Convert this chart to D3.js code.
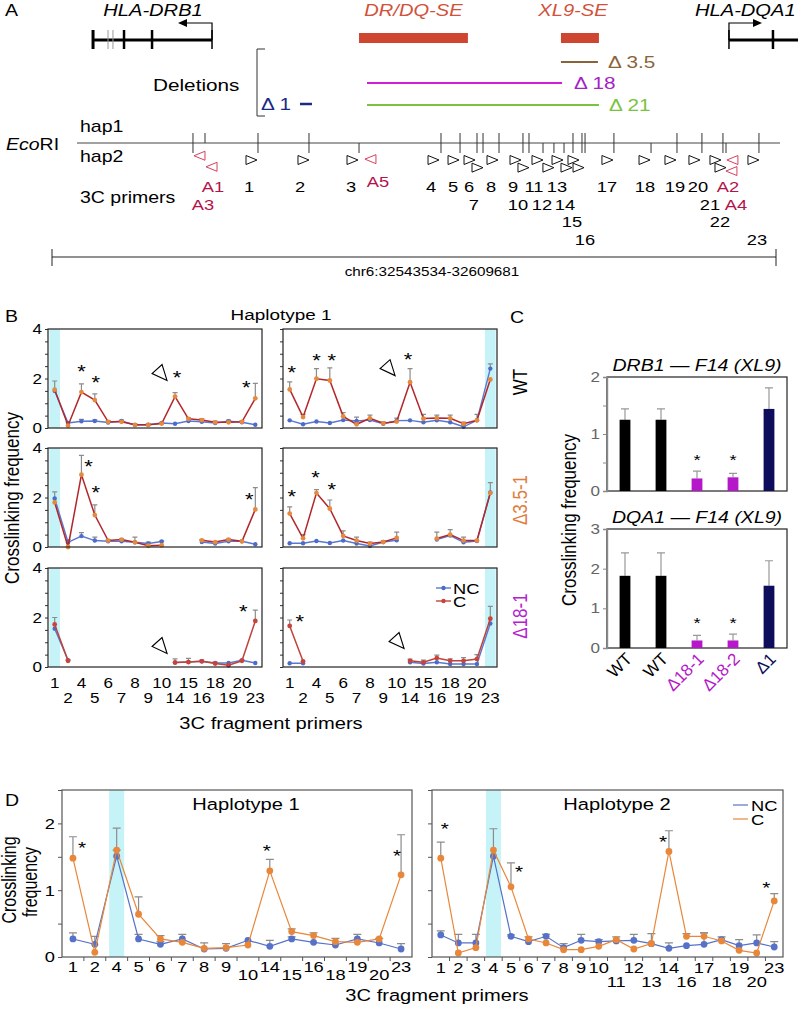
<!DOCTYPE html>
<html>
<head>
<meta charset="utf-8">
<script src="https://cdn.jsdelivr.net/npm/d3@7"></script>
<style>
  body { margin: 0; background: #fff; }
</style>
</head>
<body>
<svg id="fig" width="798" height="1010"></svg>
<script>
(function() {
  'use strict';

  // ---------- panel A : locus map (positions in kb from chr6:32543534) ----------
  const regionKb = [0, 66.147];
  const drb1Exons = [3.75, 5.12, 5.57, 6.58, 9.14, 14.62];
  const drb1Tss = 14.62, drb1ArrowTip = 11.51;
  const dqa1Exons = [61.85, 65.87];
  const dqa1End = 68.2, dqa1ArrowTip = 64.87;
  const seNames = ['DR/DQ-SE', 'XL9-SE'];
  const seStart = [28.05, 46.5];
  const seEnd = [38.0, 49.97];
  const delNames = ['Δ 3.5', 'Δ 18', 'Δ 21', 'Δ 1'];
  const delStart = [46.5, 28.78, 28.78, 22.66];
  const delEnd = [49.88, 46.6, 49.97, 23.75];
  const ecoSites = [12.88, 13.98, 18.82, 23.48, 28.05, 35.54, 37.28, 38.83, 39.38, 40.84,
    43.03, 43.58, 44.86, 45.86, 46.78, 47.6, 48.42, 48.7, 51.34, 54.73, 57.1, 59.38, 61.3, 61.58, 64.59];
  const ecoHap = ['both', 'hap1', 'both', 'both', 'hap2', 'both', 'both', 'both', 'both', 'both',
    'both', 'both', 'hap2', 'hap2', 'hap2', 'both', 'both', 'both', 'both', 'hap2', 'both', 'both', 'both', 'hap2', 'both'];
  const primerNames = ['A1', 'A3', '1', '2', '3', 'A5', '4', '5', '6', '7', '8', '9', '10', '11', '12', '13',
    '14', '15', '16', '17', '18', '19', '20', '21', '22', 'A2', 'A4', '23'];
  const primerKb = [13.52, 14.62, 18.18, 22.93, 27.41, 29.14, 34.81, 36.64, 38.1, 38.83, 40.2, 42.3, 43.03,
    44.31, 45.31, 46.14, 46.96, 47.6, 48.06, 50.7, 54.09, 56.46, 58.65, 60.57, 61.03, 62.21, 62.12, 64.04];
  const primerRow = [-0.5, 0.8, 0, 0, 0, -0.1, 0, 0, 0, 0.9, 0, 0, 0.9, 0, 0.9, 0, 0.9, 0, 0.9, 0, 0, 0, 0, 0, 0.9, 0, 1.3, 0];
  const primerLabelKb = [14.71, 13.8, 18.0, 22.66, 27.32, 29.78, 34.63, 36.64, 38.1, 38.55, 40.11, 42.12, 42.57,
    44.04, 44.77, 46.14, 46.87, 47.51, 48.7, 50.71, 54.18, 56.92, 59.02, 60.11, 61.03, 61.76, 62.49, 64.41];
  const primerLabelRow = [0, 1, 0, 0, 0, -0.3, 0, 0, 0, 1, 0, 0, 1, 0, 1, 0, 1, 2, 3, 0, 0, 0, 0, 1, 2, 0, 1, 3];
  const regionLabel = 'chr6:32543534-32609681';

  // ---------- panel B : 3C profiles, haplotype 1 ----------
  const bCats = ['1', '2', '4', '5', '6', '7', '8', '9', '10', '14', '15', '16', '18', '19', '20', '23'];
  const _ = null;
  const bWtL_C = [1.55, 0.1, 1.45, 1.13, 0.25, 0.25, 0.13, 0.13, 0.18, 1.27, 0.37, 0.32, 0.23, 0.23, 0.25, 1.2];
  const bWtL_CErr = [1.9, _, 1.78, 1.38, 0.3, 0.3, 0.18, 0.18, 0.23, 1.43, 0.42, 0.38, 0.28, 0.3, 0.3, 1.8];
  const bWtL_NC = [1.5, 0.2, 0.27, 0.28, 0.22, 0.28, 0.12, 0.13, 0.2, 0.17, 0.28, 0.25, 0.2, 0.27, 0.23, 0.13];
  const bWtL_NCErr = [_, 0.25, 0.35, 0.33, _, 0.32, _, _, _, _, _, _, _, 0.32, _, _];
  const bWtR_C = [1.56, 0.44, 1.99, 1.92, 0.47, 0.15, 0.39, 0.19, 0.26, 1.85, 0.38, 0.4, 0.39, 0.17, 0.31, 1.96];
  const bWtR_CErr = [1.86, 0.55, 2.4, 2.43, 0.62, 0.3, 0.52, 0.25, 0.4, 2.4, 0.55, 0.52, 0.52, 0.24, 0.55, _];
  const bWtR_NC = [0.31, 0.15, 0.26, 0.2, 0.32, 0.28, 0.32, 0.17, 0.3, 0.31, 0.23, 0.31, 0.23, 0.05, 0.31, 2.4];
  const bWtR_NCErr = [_, _, _, _, _, 0.44, _, _, _, _, _, _, _, 0.15, _, 2.59];
  const bD35L_C = [1.8, 0.0, 2.92, 1.29, 0.26, 0.3, 0.19, 0.05, 0.07, _, _, 0.27, 0.2, 0.3, 0.23, 1.52];
  const bD35L_CErr = [_, _, 3.7, 1.7, 0.3, 0.33, 0.4, _, _, _, _, 0.3, _, 0.33, _, 2.4];
  const bD35L_NC = [1.96, 0.19, 0.44, 0.26, 0.23, 0.23, 0.19, 0.14, 0.22, _, _, 0.2, 0.14, 0.23, 0.23, 0.11];
  const bD35L_NCErr = [2.23, 0.3, 0.58, 0.4, _, _, _, 0.2, 0.25, _, _, _, _, _, _, _];
  const bD35R_C = [1.35, 0.35, 2.18, 1.55, 0.45, 0.26, 0.14, 0.2, 0.37, _, _, 0.34, 0.5, 0.26, 0.26, 2.18];
  const bD35R_CErr = [1.62, 0.5, 2.32, 1.9, 0.65, 0.4, 0.2, 0.25, 0.6, _, _, 0.6, 0.7, 0.4, _, 2.6];
  const bD35R_NC = [0.15, 0.15, 0.24, 0.16, 0.26, 0.14, 0.04, 0.2, 0.27, _, _, 0.3, 0.46, 0.19, 0.24, 2.2];
  const bD18L_C = [1.72, 0.25, _, _, _, _, _, _, _, 0.18, 0.2, 0.23, 0.14, 0.07, 0.25, 1.86];
  const bD18L_CErr = [2.0, 0.3, _, _, _, _, _, _, _, 0.33, 0.35, 0.28, 0.2, _, 0.3, 2.3];
  const bD18L_NC = [1.55, 0.27, _, _, _, _, _, _, _, 0.18, 0.2, 0.23, 0.16, 0.16, 0.27, 0.16];
  const bD18R_C = [1.66, 0.23, _, _, _, _, _, _, _, 0.25, 0.19, 0.36, 0.25, 0.25, 0.32, 1.95];
  const bD18R_CErr = [1.9, _, _, _, _, _, _, _, _, 0.32, 0.28, 0.48, 0.33, 0.38, 0.5, 2.45];
  const bD18R_NC = [0.15, 0.15, _, _, _, _, _, _, _, 0.19, 0.14, 0.19, 0.12, 0.12, 0.12, 1.76];
  const bRowNames = ['WT', 'Δ3.5-1', 'Δ18-1'];

  // ---------- panel C : bar charts ----------
  const cLabels = ['WT', 'WT', 'Δ18-1', 'Δ18-2', 'Δ1'];
  const cDrb1 = [1.25, 1.25, 0.22, 0.24, 1.44];
  const cDrb1Err = [1.44, 1.44, 0.35, 0.31, 1.81];
  const cDqa1 = [1.82, 1.82, 0.19, 0.19, 1.57];
  const cDqa1Err = [2.4, 2.4, 0.32, 0.35, 2.2];
  const cStars = [2, 3];

  // ---------- panel D : haplotype 1 and 2 ----------
  const dCats1 = ['1', '2', '4', '5', '6', '7', '8', '9', '10', '14', '15', '16', '18', '19', '20', '23'];
  const d1C = [1.48, 0.07, 1.6, 0.64, 0.27, 0.22, 0.13, 0.14, 0.18, 1.29, 0.38, 0.32, 0.23, 0.22, 0.27, 1.23];
  const d1CErr = [1.8, _, 1.93, 0.9, 0.32, _, 0.21, 0.2, _, 1.46, 0.42, 0.36, 0.28, _, 0.28, 1.83];
  const d1NC = [0.27, 0.19, 1.51, 0.27, 0.19, 0.27, 0.12, 0.13, 0.25, 0.16, 0.27, 0.22, 0.18, 0.27, 0.21, 0.12];
  const d1NCErr = [0.36, 0.31, 1.6, 0.34, 0.23, 0.34, _, _, _, 0.25, 0.3, _, _, 0.34, _, 0.2];
  const dCats2 = ['1', '2', '3', '4', '5', '6', '7', '8', '9', '10', '11', '12', '13', '14', '16', '17', '18', '19', '20', '23'];
  const d2C = [1.48, 0.06, 0.14, 1.6, 1.05, 0.27, 0.21, 0.11, 0.11, 0.16, 0.26, 0.12, 0.2, 1.58, 0.31, 0.31, 0.24, 0.1, 0.06, 0.84];
  const d2CErr = [1.72, _, _, 1.92, 1.41, 0.3, _, _, _, _, 0.3, _, _, 1.89, 0.35, 0.36, _, _, _, 0.95];
  const d2NC = [0.33, 0.21, 0.21, 1.51, 0.31, 0.23, 0.31, 0.14, 0.25, 0.23, 0.24, 0.25, 0.2, 0.13, 0.17, 0.19, 0.26, 0.17, 0.21, 0.15];
  const d2NCErr = [0.39, 0.34, 0.34, _, 0.33, _, 0.34, 0.2, 0.34, 0.26, _, 0.34, 0.35, 0.21, _, 0.36, 0.3, 0.26, 0.33, 0.23];
  const d1LabelRow = [0, 0, 0, 0, 0, 0, 0, 0, 1, 0, 1, 0, 1, 0, 1, 0];
  const d2LabelRow = [0, 0, 0, 0, 0, 0, 0, 0, 0, 0, 1, 0, 1, 0, 1, 0, 1, 0, 1, 0];

  // ---------- drawing ----------
  const FONT = '"Liberation Sans", Arial, Helvetica, sans-serif';
  const SX = 1.22; // the original figure is stretched sideways
  const svg = d3.select('#fig');
  svg.append('rect').attr('width', 798).attr('height', 1010).attr('fill', '#fff');

  function label(x, y, s, o) {
    o = o || {};
    const rot = o.rotate || 0;
    const sc = rot === -90 ? `scale(1,${SX})` : (rot ? '' : `scale(${SX},1)`);
    return svg.append('text')
      .attr('transform', `translate(${x},${y}) rotate(${rot}) ${sc}`)
      .attr('text-anchor', o.anchor || 'start')
      .attr('fill', o.fill || '#000')
      .style('font-family', FONT)
      .style('font-size', (o.size || 15) + 'px')
      .style('font-style', o.italic ? 'italic' : 'normal')
      .text(s);
  }

  // ----- A -----
  const xA = d3.scaleLinear().domain(regionKb).range([52, 776]);
  const gA = svg.append('g');
  label(5, 16, 'A', {size: 16});
  label(153, 16, 'HLA-DRB1', {size: 16.5, italic: true, anchor: 'middle'});
  label(695, 16, 'HLA-DQA1', {size: 16.5, italic: true});

  gA.append('line').attr('x1', xA(drb1Exons[0])).attr('x2', xA(drb1Tss))
    .attr('y1', 40).attr('y2', 40).attr('stroke', '#000').attr('stroke-width', 3);
  drb1Exons.forEach((e, i) => {
    const thin = i === 1 || i === 2;
    gA.append('line').attr('x1', xA(e)).attr('x2', xA(e)).attr('y1', 30).attr('y2', 49)
      .attr('stroke', thin ? '#9a9a9a' : '#000')
      .attr('stroke-width', thin ? 1 : (i === 5 ? 1.5 : (i === 0 ? 3 : 2.5)));
  });
  gA.append('path').attr('d', `M${xA(drb1Tss)},40V23H${xA(drb1ArrowTip) + 8}`)
    .attr('fill', 'none').attr('stroke', '#000').attr('stroke-width', 1.2);
  gA.append('path').attr('d', `M${xA(drb1ArrowTip)},23l9,-4v8z`).attr('fill', '#000');

  gA.append('line').attr('x1', xA(dqa1Exons[0])).attr('x2', xA(dqa1End))
    .attr('y1', 40).attr('y2', 40).attr('stroke', '#000').attr('stroke-width', 3);
  dqa1Exons.forEach((e, i) => {
    gA.append('line').attr('x1', xA(e)).attr('x2', xA(e)).attr('y1', 30).attr('y2', 49)
      .attr('stroke', '#000').attr('stroke-width', i === 0 ? 1.5 : 2.5);
  });
  gA.append('path').attr('d', `M${xA(dqa1Exons[0])},40V23H${xA(dqa1ArrowTip) - 8}`)
    .attr('fill', 'none').attr('stroke', '#000').attr('stroke-width', 1.2);
  gA.append('path').attr('d', `M${xA(dqa1ArrowTip)},23l-9,-4v8z`).attr('fill', '#000');

  const seColor = '#cf4630';
  seNames.forEach((n, i) => {
    gA.append('rect').attr('x', xA(seStart[i])).attr('y', 33)
      .attr('width', xA(seEnd[i]) - xA(seStart[i])).attr('height', 10).attr('fill', seColor);
    label((xA(seStart[i]) + xA(seEnd[i])) / 2 - (i ? 7 : 0), 16, n,
      {size: 16.5, italic: true, fill: '#d2513a', anchor: 'middle'});
  });

  const delColors = ['#8b6338', '#d21fd6', '#7cc242', '#1b2a85'];
  const delTextColors = ['#8b6338', '#a323c4', '#7cc242', '#1b2a85'];
  const delY = [62, 83, 105, 104];
  delNames.forEach((n, i) => {
    gA.append('line').attr('x1', xA(delStart[i])).attr('x2', xA(delEnd[i]))
      .attr('y1', delY[i]).attr('y2', delY[i])
      .attr('stroke', delColors[i]).attr('stroke-width', i === 3 ? 2.5 : 2);
    if (i < 3) {
      label(xA(delEnd[i]) + (i === 1 ? 12 : 10), delY[i] + 6, n, {size: 17, fill: delTextColors[i]});
    } else {
      label(xA(delStart[i]) - 9, delY[i] + 6, n, {size: 17, fill: delTextColors[i], anchor: 'end'});
    }
  });
  gA.append('path').attr('d', 'M265,49H257V116H265').attr('fill', 'none')
    .attr('stroke', '#333').attr('stroke-width', 1);
  label(153, 91, 'Deletions', {size: 17});

  // EcoRI map
  const eco = label(6, 150, '', {size: 16});
  eco.append('tspan').style('font-style', 'italic').text('Eco');
  eco.append('tspan').text('RI');
  label(80, 132, 'hap1', {size: 16});
  label(80, 162, 'hap2', {size: 16});
  label(80, 203, '3C primers', {size: 16});
  gA.append('line').attr('x1', 77).attr('x2', 780).attr('y1', 143).attr('y2', 143)
    .attr('stroke', '#444').attr('stroke-width', 1);
  ecoSites.forEach((s, i) => {
    const h = ecoHap[i];
    gA.append('line').attr('x1', xA(s)).attr('x2', xA(s))
      .attr('y1', h === 'hap2' ? 143 : 133).attr('y2', h === 'hap1' ? 143 : 153)
      .attr('stroke', '#333').attr('stroke-width', 1);
  });
  primerNames.forEach((n, i) => {
    const cx = xA(primerKb[i]);
    const cy = 160 + primerRow[i] * 8.5;
    const rev = n[0] === 'A';
    const d = rev
      ? `M${cx + 5},${cy - 4.5}L${cx - 6},${cy}L${cx + 5},${cy + 4.5}Z`
      : `M${cx - 5},${cy - 4.5}L${cx + 6},${cy}L${cx - 5},${cy + 4.5}Z`;
    gA.append('path').attr('d', d).attr('fill', '#fff')
      .attr('stroke', rev ? '#d6405e' : '#111').attr('stroke-width', 1);
    label(xA(primerLabelKb[i]), 192 + primerLabelRow[i] * 17.7, n,
      {size: 15, anchor: 'middle', fill: rev ? '#b3124a' : '#000'});
  });

  // scale bar
  gA.append('path').attr('d', `M${xA(regionKb[0])},249V266M${xA(regionKb[0])},257H${xA(regionKb[1])}M${xA(regionKb[1])},249V266`)
    .attr('fill', 'none').attr('stroke', '#222').attr('stroke-width', 1);
  label(432, 276, regionLabel, {size: 12.5, anchor: 'middle'});

  // ----- generic line chart -----
  function linePanel(o) {
    const g = svg.append('g');
    const n = o.cats.length;
    const x = d3.scalePoint().domain(d3.range(n)).range([o.x, o.x + o.w]).padding(0.5);
    const y = d3.scaleLinear().domain([0, o.yMax]).range([o.y + o.h, o.y]);
    if (o.band != null) {
      const x0 = Math.max(o.x, x(o.band) - o.bandHalf);
      const x1 = Math.min(o.x + o.w, x(o.band) + o.bandHalf);
      g.append('rect').attr('x', x0).attr('y', o.y).attr('width', x1 - x0).attr('height', o.h)
        .attr('fill', '#c6f3f8');
    }
    const ya = d3.axisLeft(y).tickValues(d3.range(0, o.yMax + 0.001, 0.5)).tickSize(o.tickLen).tickFormat('');
    const ag = g.append('g').attr('transform', `translate(${o.x},0)`).call(ya);
    ag.select('.domain').remove();
    ag.selectAll('line').attr('stroke', o.axisColor);
    if (o.yLabels) {
      o.yLabels.forEach(v => label(o.x - o.tickLen - 3, y(v) + o.fontSize * 0.36, String(v),
        {size: o.fontSize, anchor: 'end'}));
    }
    if (o.xTicks) {
      d3.range(1, n).forEach(i => {
        g.append('line').attr('x1', x(i) - x.step() / 2).attr('x2', x(i) - x.step() / 2)
          .attr('y1', o.y + o.h).attr('y2', o.y + o.h + 4).attr('stroke', o.axisColor);
      });
    }
    if (o.xLabels) {
      o.cats.forEach((c, i) => label(x(i), o.xLabelY[o.xLabelRow[i]], c, {size: o.fontSize, anchor: 'middle'}));
    }
    // error bars
    o.series.forEach(s => {
      if (!s.err) return;
      s.err.forEach((e, i) => {
        if (e == null || s.vals[i] == null) return;
        g.append('path')
          .attr('d', `M${x(i)},${y(s.vals[i])}V${y(e)}M${x(i) - o.cap},${y(e)}H${x(i) + o.cap}`)
          .attr('fill', 'none').attr('stroke', '#8c8c8c').attr('stroke-width', 1.2);
      });
    });
    o.series.forEach(s => {
      const line = d3.line().defined(d => d != null).x((d, i) => x(i)).y(d => y(d));
      g.append('path').datum(s.vals).attr('d', line).attr('fill', 'none')
        .attr('stroke', s.line).attr('stroke-width', s.lw);
      g.selectAll(null)
        .data(s.vals.map((v, i) => ({v: v, i: i})).filter(d => d.v != null))
        .enter().append('circle')
        .attr('cx', d => x(d.i)).attr('cy', d => y(d.v)).attr('r', s.r)
        .attr('fill', s.marker);
    });
    g.append('rect').attr('x', o.x).attr('y', o.y).attr('width', o.w).attr('height', o.h)
      .attr('fill', 'none').attr('stroke', o.frame).attr('stroke-width', 1.2);
    (o.stars || []).forEach(st => {
      label(x(st[0]) + st[2], y(st[1]) + o.starSize * 0.6, '*', {size: o.starSize, anchor: 'middle'});
    });
    (o.arrows || []).forEach(a => {
      const cx = x(a[0]) + a[2], cy = y(a[1]);
      g.append('path').attr('d', `M${cx + 7},${cy + 8}L${cx + 2},${cy - 8}L${cx - 8},${cy + 1}Z`)
        .attr('fill', '#fff').attr('stroke', '#000').attr('stroke-width', 1.1);
    });
    return {x: x, y: y, g: g};
  }

  // ----- B -----
  label(5, 322, 'B', {size: 16});
  label(281, 320, 'Haplotype 1', {size: 15.5, anchor: 'middle'});
  label(19, 498, 'Crosslinking frequency', {size: 17, anchor: 'middle', rotate: -90});
  label(271, 729, '3C fragment primers', {size: 16.5, anchor: 'middle'});
  const bRowColors = ['#000', '#e07d3c', '#b520cf'];
  const bRowY = [329, 448, 568];
  const bRowCenter = [382, 500, 616];
  bRowNames.forEach((n, i) => label(527, bRowCenter[i], n, {size: 17, anchor: 'middle', rotate: -90, fill: bRowColors[i]}));

  const bRed = '#b3272b', bOrange = '#e6893c', bBlue = '#5878d2';
  function bSeries(c, cErr, nc, ncErr, row) {
    return [
      {vals: nc, err: ncErr, line: bBlue, marker: '#4d6cc9', lw: 1.4, r: 2.2},
      {vals: c, err: cErr, line: row === 2 ? '#c0433a' : bRed, marker: row === 2 ? '#c8443a' : bOrange, lw: 1.5, r: 2.4}
    ];
  }
  const bData = [
    [[bWtL_C, bWtL_CErr, bWtL_NC, bWtL_NCErr], [bWtR_C, bWtR_CErr, bWtR_NC, bWtR_NCErr]],
    [[bD35L_C, bD35L_CErr, bD35L_NC, bD35L_NCErr], [bD35R_C, bD35R_CErr, bD35R_NC, null]],
    [[bD18L_C, bD18L_CErr, bD18L_NC, null], [bD18R_C, bD18R_CErr, bD18R_NC, null]]
  ];
  const bStars = [
    [[[2, 2.44, 0], [3, 2.0, 1], [9, 2.2, 2], [15, 1.8, -9]], [[0, 2.4, 2], [2, 2.92, 0], [3, 2.92, 2], [9, 2.96, -2]]],
    [[[2, 3.43, 7], [3, 2.37, 1], [15, 2.08, -6]], [[0, 2.2, 2], [2, 2.98, -1], [3, 2.49, 2]]],
    [[[15, 2.43, -12]], [[0, 2.0, 10]]]
  ];
  const bArrows = [[[[9, 2.24, -15]], [[9, 2.44, -22]]], [[], []], [[[9, 0.87, -15]], [[9, 1.07, -13]]]];
  const bColX = [48, 283];
  bData.forEach((row, r) => {
    row.forEach((d, c) => {
      linePanel({
        cats: bCats, x: bColX[c], w: 214, y: bRowY[r], h: 99, yMax: 4,
        band: c === 0 ? 0 : bCats.length - 1, bandHalf: 5.3,
        tickLen: 3, axisColor: '#333', frame: '#222', fontSize: 14,
        yLabels: c === 0 ? [0, 2, 4] : null,
        xLabels: r === 2, xLabelY: [688, 703], xLabelRow: bCats.map((v, i) => i % 2),
        series: bSeries(d[0], d[1], d[2], d[3], r), cap: 2.5,
        stars: bStars[r][c], starSize: 18, arrows: bArrows[r][c]
      });
    });
  });
  // legend in the last panel
  [['NC', bBlue, '#4d6cc9', 588], ['C', '#c0433a', '#c8443a', 601]].forEach(l => {
    svg.append('line').attr('x1', 436).attr('x2', 451).attr('y1', l[3]).attr('y2', l[3])
      .attr('stroke', l[1]).attr('stroke-width', 1.4);
    svg.append('circle').attr('cx', 443.5).attr('cy', l[3]).attr('r', 2.2).attr('fill', l[2]);
    label(453, l[3] + 5.5, l[0], {size: 15});
  });

  // ----- C -----
  label(510, 323, 'C', {size: 16});
  label(576, 520, 'Crosslinking frequency', {size: 17, anchor: 'middle', rotate: -90});
  const cColors = ['#000', '#000', '#b418c8', '#b418c8', '#0d0d5c'];
  function barPanel(o) {
    const g = svg.append('g');
    const x = d3.scaleBand().domain(d3.range(o.vals.length)).range([o.x, o.x + o.w])
      .paddingInner(0.7).paddingOuter(0.35);
    const y = d3.scaleLinear().domain([0, o.yMax]).range([o.y + o.h, o.y]);
    g.append('rect').attr('x', o.x).attr('y', o.y).attr('width', o.w).attr('height', o.h)
      .attr('fill', 'none').attr('stroke', '#222').attr('stroke-width', 1.2);
    const ag = g.append('g').attr('transform', `translate(${o.x},0)`)
      .call(d3.axisLeft(y).tickValues(o.ticks).tickSize(4).tickFormat(''));
    ag.select('.domain').attr('stroke', '#8a8a8a').attr('stroke-width', 1.4);
    ag.selectAll('line').attr('stroke', '#8a8a8a');
    o.labels.forEach(v => label(o.x - 7, y(v) + 5, String(v), {size: 14, anchor: 'end', fill: '#666'}));
    o.vals.forEach((v, i) => {
      g.append('path')
        .attr('d', `M${x(i) + x.bandwidth() / 2},${y(v)}V${y(o.err[i])}M${x(i) + x.bandwidth() / 2 - 4},${y(o.err[i])}h8`)
        .attr('fill', 'none').attr('stroke', '#999').attr('stroke-width', 1.2);
      g.append('rect').attr('x', x(i)).attr('y', y(v)).attr('width', x.bandwidth())
        .attr('height', y(0) - y(v)).attr('fill', cColors[i]);
    });
    cStars.forEach(i => label(x(i) + x.bandwidth() / 2, y(o.starAt) + 8, '*', {size: 15, anchor: 'middle'}));
    label(o.x + o.w / 2, o.y - 6, o.title, {size: 16, italic: true, anchor: 'middle'});
    return x;
  }
  barPanel({x: 607, w: 180, y: 377, h: 114, yMax: 2, vals: cDrb1, err: cDrb1Err,
    ticks: [0, 0.5, 1, 1.5, 2], labels: [0, 1, 2], starAt: 0.6, title: 'DRB1 — F14 (XL9)'});
  const xc = barPanel({x: 607, w: 180, y: 529, h: 119, yMax: 3, vals: cDqa1, err: cDqa1Err,
    ticks: [0, 1, 2, 3], labels: [0, 1, 2, 3], starAt: 0.7, title: 'DQA1 — F14 (XL9)'});
  cLabels.forEach((n, i) => {
    label(xc(i) + xc.bandwidth() / 2 + 8, 660, n,
      {size: 17, anchor: 'end', rotate: -45, fill: cColors[i]});
  });

  // ----- D -----
  label(5, 806, 'D', {size: 16});
  label(16, 880, 'Crosslinking', {size: 16, anchor: 'middle', rotate: -90});
  label(37, 882, 'frequency', {size: 16, anchor: 'middle', rotate: -90});
  label(437, 1001, '3C fragment primers', {size: 16.5, anchor: 'middle'});
  const dOrange = '#e8873a', dBlue = '#5672c8';
  function dSeries(c, cErr, nc, ncErr) {
    return [
      {vals: nc, err: ncErr, line: dBlue, marker: dBlue, lw: 1.2, r: 3.4},
      {vals: c, err: cErr, line: dOrange, marker: dOrange, lw: 1.2, r: 3.4}
    ];
  }
  linePanel({
    cats: dCats1, x: 62, w: 350, y: 790, h: 167, yMax: 2.5, band: 2, bandHalf: 7.5,
    tickLen: 4, axisColor: '#555', frame: '#555', fontSize: 15, yLabels: [0, 1, 2],
    xTicks: true, xLabels: true, xLabelY: [972, 980], xLabelRow: d1LabelRow,
    series: dSeries(d1C, d1CErr, d1NC, d1NCErr), cap: 4,
    stars: [[0, 1.7, 9], [9, 1.65, -3], [15, 1.57, -4]], starSize: 17
  });
  linePanel({
    cats: dCats2, x: 432, w: 351, y: 790, h: 167, yMax: 2.5, band: 3, bandHalf: 7.5,
    tickLen: 4, axisColor: '#555', frame: '#555', fontSize: 15, yLabels: null,
    xTicks: true, xLabels: true, xLabelY: [973, 987], xLabelRow: d2LabelRow,
    series: dSeries(d2C, d2CErr, d2NC, d2NCErr), cap: 4,
    stars: [[0, 1.98, 4], [4, 1.33, 8], [13, 1.78, -6], [19, 1.1, -8]], starSize: 17
  });
  label(246, 810, 'Haplotype 1', {size: 16.5, anchor: 'middle'});
  label(617, 810, 'Haplotype 2', {size: 16.5, anchor: 'middle'});
  [['NC', dBlue, 805], ['C', dOrange, 819]].forEach(l => {
    svg.append('line').attr('x1', 733).attr('x2', 748).attr('y1', l[2]).attr('y2', l[2])
      .attr('stroke', l[1]).attr('stroke-width', 1.2);
    label(751, l[2] + 5.5, l[0], {size: 15});
  });
})();
</script>
</body>
</html>
